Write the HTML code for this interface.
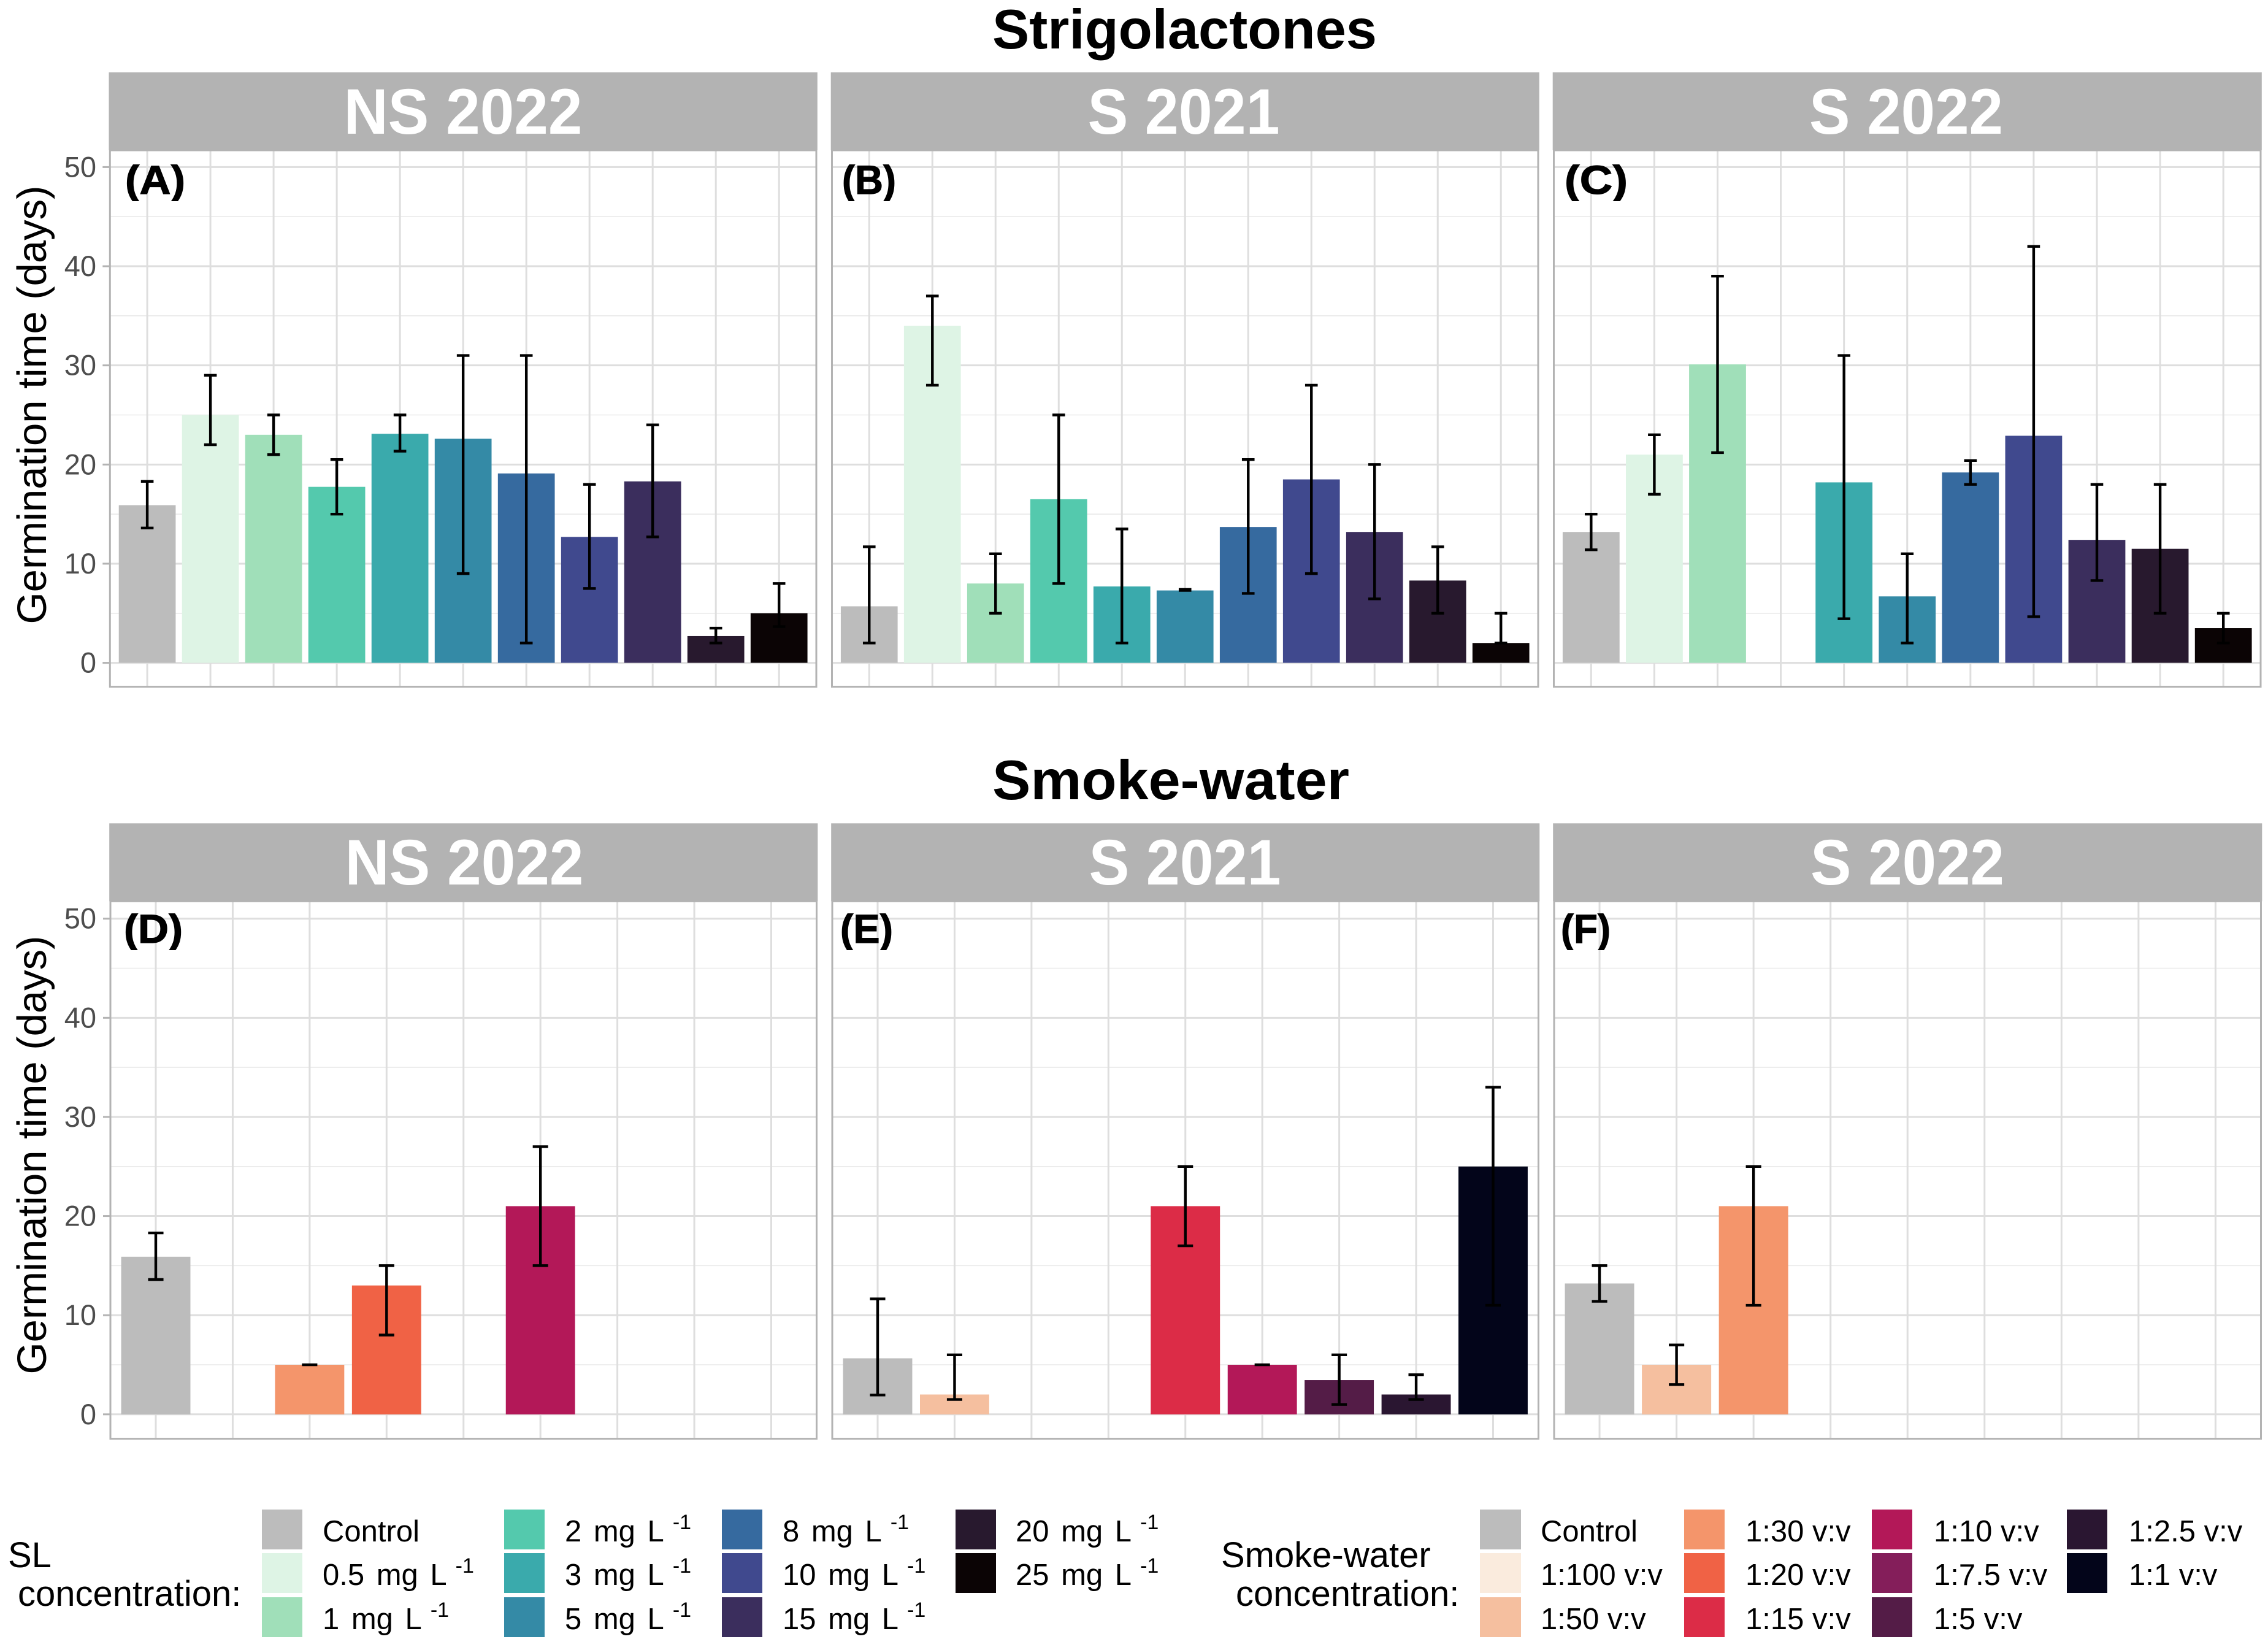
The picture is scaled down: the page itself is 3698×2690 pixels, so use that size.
<!DOCTYPE html>
<html lang="en">
<head>
<meta charset="utf-8">
<title>Germination time: Strigolactones and Smoke-water</title>
<style>
html,body{margin:0;padding:0;background:#fff;}
svg{display:block;font-family:"Liberation Sans",sans-serif;}
.st{font-weight:700;font-size:105px;fill:#fff;text-anchor:middle;}
.ti{font-weight:700;fill:#000;}
.pl{font-weight:700;font-size:66px;fill:#000;stroke:#000;stroke-width:1.2px;}
.yt{font-size:67px;fill:#000;text-anchor:middle;}
.lt{font-size:58px;fill:#000;}
.ll{font-size:49px;fill:#000;word-spacing:6px;}
.vv{word-spacing:0;}
.ll tspan{font-size:34px;}
</style>
</head>
<body>
<svg id="figure" xmlns="http://www.w3.org/2000/svg" width="3698" height="2690" viewBox="0 0 3698 2690">
<defs>
<clipPath id="clip-top"><rect x="0" y="268" width="3698" height="60"/></clipPath>
<clipPath id="clip-bottom"><rect x="0" y="1489" width="3698" height="60"/></clipPath>
</defs>
<rect x="0" y="0" width="3698" height="2690" fill="#fff"/>
<g id="panels"></g>

<text class="ti" x="1618" y="79" font-size="91" textLength="627" lengthAdjust="spacingAndGlyphs">Strigolactones</text>
<text class="ti" x="1618" y="1303" font-size="91" textLength="582" lengthAdjust="spacingAndGlyphs">Smoke-water</text>

<text class="st" x="755" y="218" textLength="389" lengthAdjust="spacingAndGlyphs">NS 2022</text>
<text class="st" x="1930" y="218" textLength="313" lengthAdjust="spacingAndGlyphs">S 2021</text>
<text class="st" x="3108" y="218" textLength="316" lengthAdjust="spacingAndGlyphs">S 2022</text>
<text class="st" x="757" y="1442" textLength="389" lengthAdjust="spacingAndGlyphs">NS 2022</text>
<text class="st" x="1932" y="1442" textLength="313" lengthAdjust="spacingAndGlyphs">S 2021</text>
<text class="st" x="3110" y="1442" textLength="316" lengthAdjust="spacingAndGlyphs">S 2022</text>

<g clip-path="url(#clip-top)">
<text class="pl" x="204" y="316" textLength="98" lengthAdjust="spacingAndGlyphs">(A)</text>
<text class="pl" x="1373" y="316" textLength="88" lengthAdjust="spacingAndGlyphs">(B)</text>
<text class="pl" x="2551" y="316" textLength="103" lengthAdjust="spacingAndGlyphs">(C)</text>
</g>
<g clip-path="url(#clip-bottom)">
<text class="pl" x="202" y="1537" textLength="96" lengthAdjust="spacingAndGlyphs">(D)</text>
<text class="pl" x="1370" y="1537" textLength="86" lengthAdjust="spacingAndGlyphs">(E)</text>
<text class="pl" x="2545" y="1537" textLength="81" lengthAdjust="spacingAndGlyphs">(F)</text>
</g>

<text class="yt" transform="translate(75,660) rotate(-90)">Germination time (days)</text>
<text class="yt" transform="translate(75,1883) rotate(-90)">Germination time (days)</text>

<g>
<text class="lt" x="13" y="2555">SL</text>
<text class="lt" x="29" y="2618">concentration:</text>
<rect x="427" y="2461" width="66" height="65" fill="#bcbcbc"/>
<rect x="427" y="2532" width="66" height="65" fill="#def4e5"/>
<rect x="427" y="2604" width="66" height="65" fill="#a0dfb9"/>
<rect x="822" y="2461" width="66" height="65" fill="#54c9ad"/>
<rect x="822" y="2532" width="66" height="65" fill="#3aaaac"/>
<rect x="822" y="2604" width="66" height="65" fill="#348aa6"/>
<rect x="1177" y="2461" width="66" height="65" fill="#366a9f"/>
<rect x="1177" y="2532" width="66" height="65" fill="#40498e"/>
<rect x="1177" y="2604" width="66" height="65" fill="#3b2e5d"/>
<rect x="1558" y="2461" width="66" height="65" fill="#28192e"/>
<rect x="1558" y="2532" width="66" height="65" fill="#0b0405"/>
<text class="ll" x="526" y="2513">Control</text>
<text class="ll" x="526" y="2584">0.5 mg L<tspan dx="14" dy="-20">-1</tspan></text>
<text class="ll" x="526" y="2656">1 mg L<tspan dx="14" dy="-20">-1</tspan></text>
<text class="ll" x="921" y="2513">2 mg L<tspan dx="14" dy="-20">-1</tspan></text>
<text class="ll" x="921" y="2584">3 mg L<tspan dx="14" dy="-20">-1</tspan></text>
<text class="ll" x="921" y="2656">5 mg L<tspan dx="14" dy="-20">-1</tspan></text>
<text class="ll" x="1276" y="2513">8 mg L<tspan dx="14" dy="-20">-1</tspan></text>
<text class="ll" x="1276" y="2584">10 mg L<tspan dx="14" dy="-20">-1</tspan></text>
<text class="ll" x="1276" y="2656">15 mg L<tspan dx="14" dy="-20">-1</tspan></text>
<text class="ll" x="1656" y="2513">20 mg L<tspan dx="14" dy="-20">-1</tspan></text>
<text class="ll" x="1656" y="2584">25 mg L<tspan dx="14" dy="-20">-1</tspan></text>
</g>

<g>
<text class="lt" x="1991" y="2555">Smoke-water</text>
<text class="lt" x="2015" y="2618">concentration:</text>
<rect x="2413" y="2461" width="67" height="65" fill="#bcbcbc"/>
<rect x="2413" y="2532" width="67" height="65" fill="#faebdd"/>
<rect x="2413" y="2604" width="67" height="65" fill="#f5bf9f"/>
<rect x="2746" y="2461" width="66" height="65" fill="#f4956b"/>
<rect x="2746" y="2532" width="66" height="65" fill="#f06245"/>
<rect x="2746" y="2604" width="66" height="65" fill="#dc2c47"/>
<rect x="3052" y="2461" width="66" height="65" fill="#b31858"/>
<rect x="3052" y="2532" width="66" height="65" fill="#841e5a"/>
<rect x="3052" y="2604" width="66" height="65" fill="#541c47"/>
<rect x="3370" y="2461" width="66" height="65" fill="#2a1631"/>
<rect x="3370" y="2532" width="66" height="65" fill="#03051a"/>
<text class="ll vv" x="2512" y="2513">Control</text>
<text class="ll vv" x="2512" y="2584">1:100 v:v</text>
<text class="ll vv" x="2512" y="2656">1:50 v:v</text>
<text class="ll vv" x="2846" y="2513">1:30 v:v</text>
<text class="ll vv" x="2846" y="2584">1:20 v:v</text>
<text class="ll vv" x="2846" y="2656">1:15 v:v</text>
<text class="ll vv" x="3153" y="2513">1:10 v:v</text>
<text class="ll vv" x="3153" y="2584">1:7.5 v:v</text>
<text class="ll vv" x="3153" y="2656">1:5 v:v</text>
<text class="ll vv" x="3471" y="2513">1:2.5 v:v</text>
<text class="ll vv" x="3471" y="2584">1:1 v:v</text>
</g>
</svg>

<script>
/* ---------- data ---------- */
const yTickLabels = [0, 10, 20, 30, 40, 50];
const yMinorTicks = [5, 15, 25, 35, 45];

const slCategories = ['Control', '0.5', '1', '2', '3', '5', '8', '10', '15', '20', '25'];

const panelAMeans = [15.9, 25, 23, 17.75, 23.1, 22.6, 19.1, 12.7, 18.3, 2.7, 5];
const panelAUpper = [18.3, 29, 25, 20.5, 25, 31, 31, 18, 24, 3.5, 8];
const panelALower = [13.6, 22, 21, 15, 21.35, 9, 2, 7.5, 12.7, 2, 3.65];

const panelBMeans = [5.7, 34, 8, 16.5, 7.7, 7.3, 13.7, 18.5, 13.2, 8.3, 2];
const panelBUpper = [11.7, 37, 11, 25, 13.5, 7.4, 20.5, 28, 20, 11.7, 5];
const panelBLower = [2, 28, 5, 8, 2, 7.3, 7, 9, 6.45, 5, 2];

const panelCMeans = [13.2, 21, 30.1, null, 18.2, 6.7, 19.2, 22.9, 12.4, 11.5, 3.5];
const panelCUpper = [15, 23, 39, null, 31, 11, 20.4, 42, 18, 18, 5];
const panelCLower = [11.4, 17, 21.2, null, 4.45, 2, 18, 4.65, 8.3, 5, 2];

const panelDCategories = ['Control', '1:100', '1:30', '1:20', '1:15', '1:10', '1:7.5', '1:5', '1:2.5'];
const panelDMeans = [15.9, null, 5, 13, null, 21, null, null, null];
const panelDUpper = [18.3, null, 5, 15, null, 27, null, null, null];
const panelDLower = [13.6, null, 5, 8, null, 15, null, null, null];

const panelECategories = ['Control', '1:50', '1:30', '1:20', '1:15', '1:10', '1:5', '1:2.5', '1:1'];
const panelEMeans = [5.65, 2, null, null, 21, 5, 3.45, 2, 25];
const panelEUpper = [11.65, 6, null, null, 25, 5, 6, 4, 33];
const panelELower = [1.95, 1.5, null, null, 17, 5, 1, 1.5, 11];

const panelFCategories = ['Control', '1:50', '1:30', '1:20', '1:15', '1:10', '1:7.5', '1:5', '1:2.5'];
const panelFMeans = [13.2, 5, 21, null, null, null, null, null, null];
const panelFUpper = [15, 7, 25, null, null, null, null, null, null];
const panelFLower = [11.4, 3, 11, null, null, null, null, null, null];

/* ---------- colour scales ---------- */
const categoryColors = {
  'Control': '#bcbcbc', '0.5': '#def4e5', '1': '#a0dfb9', '2': '#54c9ad', '3': '#3aaaac',
  '5': '#348aa6', '8': '#366a9f', '10': '#40498e', '15': '#3b2e5d', '20': '#28192e', '25': '#0b0405',
  '1:100': '#faebdd', '1:50': '#f5bf9f', '1:30': '#f4956b', '1:20': '#f06245', '1:15': '#dc2c47',
  '1:10': '#b31858', '1:7.5': '#841e5a', '1:5': '#541c47', '1:2.5': '#2a1631', '1:1': '#03051a'
};

/* ---------- panel wiring and layout ---------- */
const rows = {
  top: { stripTop: 118, stripBottom: 245, y50: 272.4, y0: 1080.6, bottom: 1119.6 },
  bottom: { stripTop: 1342.3, stripBottom: 1469.4, y50: 1497.7, y0: 2305.8, bottom: 2345.6 }
};
const panels = [
  { id: 'a', row: rows.top, left: 179.3, right: 1331, cats: slCategories, means: panelAMeans, upper: panelAUpper, lower: panelALower, ticks: true },
  { id: 'b', row: rows.top, left: 1356.5, right: 2508, cats: slCategories, means: panelBMeans, upper: panelBUpper, lower: panelBLower },
  { id: 'c', row: rows.top, left: 2533.5, right: 3686, cats: slCategories, means: panelCMeans, upper: panelCUpper, lower: panelCLower },
  { id: 'd', row: rows.bottom, left: 180, right: 1331.5, cats: panelDCategories, means: panelDMeans, upper: panelDUpper, lower: panelDLower, ticks: true },
  { id: 'e', row: rows.bottom, left: 1357, right: 2508.5, cats: panelECategories, means: panelEMeans, upper: panelEUpper, lower: panelELower },
  { id: 'f', row: rows.bottom, left: 2534, right: 3686.5, cats: panelFCategories, means: panelFMeans, upper: panelFUpper, lower: panelFLower }
];

const SVG_NS = 'http://www.w3.org/2000/svg';
const root = document.getElementById('panels');

function make(tag, attrs, parent) {
  const node = document.createElementNS(SVG_NS, tag);
  for (const key in attrs) node.setAttribute(key, attrs[key]);
  parent.appendChild(node);
  return node;
}
function yScale(row, value) {
  return row.y0 + (row.y50 - row.y0) * value / 50;
}
function xStep(panel) {
  return (panel.right - panel.left) / (panel.cats.length - 1 + 1.18);
}
function xScale(panel, index) {
  const centre = (panel.left + panel.right) / 2;
  return centre + (index - (panel.cats.length - 1) / 2) * xStep(panel);
}

panels.forEach(function (p) {
  const g = make('g', {}, root);
  
  

  yMinorTicks.forEach(function (v) {
    const y = yScale(p.row, v);
    const line = make('line', { x1: p.left, x2: p.right, y1: y, y2: y, stroke: '#e9e9e9', 'stroke-width': 1.6 }, g);
    
    
  });
  yTickLabels.forEach(function (v) {
    const y = yScale(p.row, v);
    const line = make('line', { x1: p.left, x2: p.right, y1: y, y2: y, stroke: '#dedede', 'stroke-width': 3 }, g);
    
    
  });
  p.cats.forEach(function (c, i) {
    const x = xScale(p, i);
    const line = make('line', { x1: x, x2: x, y1: p.row.stripBottom, y2: p.row.bottom, stroke: '#dedede', 'stroke-width': 3 }, g);
    
    
  });

  const step = xStep(p);
  p.cats.forEach(function (c, i) {
    if (p.means[i] === null) return;
    const x = xScale(p, i);
    const top = yScale(p.row, p.means[i]);
    const bar = make('rect', { x: x - 0.45 * step, y: top, width: 0.9 * step, height: p.row.y0 - top, fill: categoryColors[c] }, g);
    
    
  });

  const frame = make('rect', { x: p.left, y: p.row.stripBottom, width: p.right - p.left, height: p.row.bottom - p.row.stripBottom, fill: 'none', stroke: '#b3b3b3', 'stroke-width': 3 }, g);
  
  

  p.cats.forEach(function (c, i) {
    if (p.means[i] === null) return;
    const x = xScale(p, i);
    const hi = yScale(p.row, p.upper[i]);
    const lo = yScale(p.row, p.lower[i]);
    const cap = 0.1 * step;
    const err = make('path', {
      d: 'M' + (x - cap) + ' ' + hi + 'H' + (x + cap) + 'M' + x + ' ' + hi + 'V' + lo + 'M' + (x - cap) + ' ' + lo + 'H' + (x + cap),
      fill: 'none', stroke: '#000', 'stroke-width': 4.4
    }, g);
    
    
  });

  const strip = make('rect', { x: p.left - 1.8, y: p.row.stripTop, width: p.right - p.left + 3.6, height: p.row.stripBottom - p.row.stripTop, fill: '#b3b3b3' }, g);
  
  

  if (p.ticks) {
    yTickLabels.forEach(function (v) {
      const y = yScale(p.row, v);
      const tick = make('line', { x1: p.left - 12, x2: p.left, y1: y, y2: y, stroke: '#b3b3b3', 'stroke-width': 3 }, g);
      
      
      const label = make('text', { x: 157, y: y + 16, 'font-size': 47, fill: '#4d4d4d', 'text-anchor': 'end' }, g);
      label.textContent = String(v);
      
      
    });
  }
});
</script>
</body>
</html>
